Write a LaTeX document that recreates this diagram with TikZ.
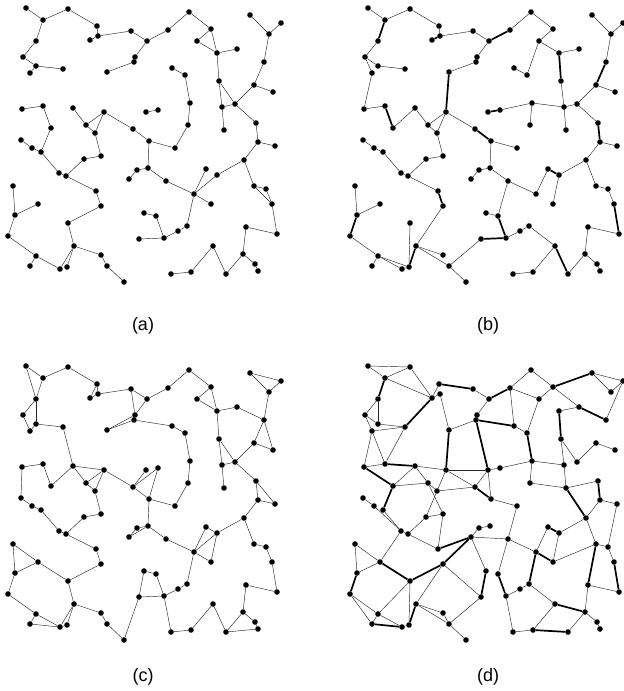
\documentclass[tikz,border=0pt]{standalone}
\usepackage{fontspec}
\setmainfont{Liberation Sans}
\tikzset{
  dot/.style={circle,fill=black,inner sep=0pt,minimum size=5.6pt},
  edge/.style={line width=0.45pt,draw=black!85},
  tedge/.style={line width=1.7pt,draw=black},
  lab/.style={font=\fontsize{18}{20}\selectfont}
}
\def\pts{1/26/8,2/43/20,3/68/9,4/97/26,5/98/36,6/90/40,7/131/31,8/147/41,9/135/57,10/134/62,
11/107/72,12/36/41,13/23/57,14/36/66,15/30/73,16/63/69,17/22/109,18/43/106,19/51/128,20/21/140,
21/32/148,22/73/108,23/86/125,24/104/112,25/95/133,26/146/112,27/133/129,28/168/30,29/189/12,30/211/29,
31/197/41,32/217/53,33/237/49,34/219/81,35/222/107,36/224/130,37/235/104,38/254/85,39/273/92,40/264/62,
41/269/34,42/250/15,43/281/23,44/256/123,45/258/142,46/275/146,47/172/68,48/185/75,49/190/103,50/188/125,
51/175/148,52/149/141,53/158/110,54/41/152,55/59/173,56/66/176,57/84/159,58/101/156,59/96/191,60/101/206,
61/68/223,62/74/246,63/101/255,64/107/266,65/124/282,66/60/269,67/67/267,68/36/256,69/30/266,70/8/236,
71/15/215,72/13/186,73/38/204,74/129/179,75/137/170,76/148/168,77/144/213,78/139/239,79/166/181,80/194/194,
81/211/204,82/206/169,83/217/175,84/244/160,85/254/186,86/266/189,87/272/204,88/277/234,89/246/227,90/243/254,
91/255/264,92/258/271,93/226/274,94/213/246,95/191/272,96/171/274,97/156/216,98/164/238,99/178/231,100/187/226}
\begin{document}
\begin{tikzpicture}[x=1pt,y=-1pt]
\useasboundingbox (0,0) rectangle (624,691);
\foreach \p/\ox/\oy in {a/0/0,b/342/0,c/0/358,d/342/358}{
  \foreach \i/\x/\y in \pts {\node[dot] (\p\i) at (\x+\ox,\y+\oy) {};}
}
% (a)
\foreach \u/\v in {1/2,2/3,3/4,4/5,5/6,5/7,7/8,8/9,9/10,10/11,2/12,12/13,13/14,14/15,14/16,
17/18,18/19,19/54,20/21,21/54,22/23,23/24,23/25,24/25,24/27,25/58,27/52,
8/28,28/29,29/30,30/31,31/32,30/32,32/33,32/34,34/35,35/36,34/37,35/37,37/38,38/39,38/40,40/41,41/42,41/43,37/44,44/45,45/46,
47/48,48/49,49/50,50/51,51/52,26/53,
54/55,55/56,56/57,57/58,56/59,59/60,60/61,61/62,62/63,63/64,64/65,62/66,62/67,66/68,68/69,68/70,70/71,71/72,71/73,
74/75,75/76,76/52,77/97,78/98,76/79,79/80,80/81,80/82,80/83,83/84,84/45,84/85,85/86,86/87,85/87,87/88,88/89,89/90,
90/91,91/92,90/93,93/94,94/95,95/96,97/98,98/99,99/100,100/80}
  {\draw[edge] (a\u) -- (a\v);}
% (b)
\foreach \u/\v in {1/2,2/3,3/4,4/5,5/7,7/8,28/29,29/30,30/31,31/48,47/48,31/32,32/33,34/35,35/36,35/37,37/38,38/39,
40/41,41/42,41/43,37/44,45/46,8/9,9/10,10/11,22/23,23/24,24/25,23/25,24/27,49/53,49/50,49/35,52/51,12/13,13/14,
13/15,14/16,15/17,17/18,19/22,20/21,21/54,54/55,55/56,56/57,57/58,25/58,56/59,60/62,61/67,62/63,62/64,64/65,
64/78,97/77,97/79,79/76,76/75,75/74,76/52,98/99,99/100,100/94,93/90,90/89,89/88,87/86,86/85,85/84,84/83,82/80,
83/81,79/80,84/45,90/91,91/92,94/95,95/96,71/72,71/73,70/68,68/69,68/66,68/67,66/67}
  {\draw[edge] (b\u) -- (b\v);}
\foreach \u/\v in {5/6,8/28,32/34,38/40,44/45,11/24,27/52,26/53,2/12,18/19,59/60,62/67,78/98,98/97,94/93,88/87,83/82,71/70}
  {\draw[tedge] (b\u) -- (b\v);}
% (c)
\foreach \u/\v in {1/2,1/12,2/12,2/3,3/4,4/5,4/6,5/6,5/7,7/8,7/9,8/9,9/10,9/11,10/11,8/28,28/29,29/30,30/31,30/32,
31/32,32/33,33/40,32/34,34/35,34/37,35/37,35/36,37/38,38/39,38/40,39/40,40/41,41/42,42/43,41/43,37/44,44/45,45/46,
44/46,10/47,47/48,48/49,49/50,50/51,51/52,52/53,27/26,27/53,27/52,27/24,24/23,24/25,23/25,22/23,22/24,22/19,22/16,
16/14,14/12,13/12,13/15,14/15,17/18,18/19,17/20,20/21,21/54,54/55,55/56,56/57,57/58,25/58,56/59,59/60,60/61,61/62,
62/63,63/64,64/65,62/66,62/67,66/67,66/68,66/69,68/69,68/70,70/71,71/72,71/73,72/73,73/61,74/76,75/76,74/75,76/52,
76/79,79/80,80/81,80/82,80/83,82/83,83/81,83/84,84/45,84/85,85/86,86/87,87/88,88/89,89/90,90/91,91/92,90/93,93/92,
93/94,94/95,95/96,96/98,80/100,100/99,99/98,98/97,97/77,77/78,78/98,78/65}
  {\draw[edge] (c\u) -- (c\v);}
% (d)
\foreach \u/\v in {1/3,1/2,2/3,3/6,2/6,4/6,5/6,5/11,7/8,8/9,9/10,10/11,12/13,12/14,13/14,13/15,14/16,15/16,15/17,
15/18,16/18,17/18,19/22,19/23,22/24,22/23,24/25,23/25,24/27,24/26,26/27,25/27,20/21,21/55,54/55,23/58,25/57,57/58,
56/57,55/56,55/73,56/59,58/59,74/75,75/76,74/77,60/78,60/62,73/72,72/71,71/73,70/68,70/69,68/69,68/61,61/67,68/66,
66/67,62/63,62/64,63/64,64/65,64/78,
29/28,29/30,28/31,31/48,30/31,42/43,42/41,43/41,43/40,32/33,30/33,47/28,47/48,49/53,49/35,49/50,34/35,34/37,37/38,
38/39,35/36,50/36,36/44,45/46,84/45,46/86,26/52,52/51,51/79,74/79,79/80,82/80,83/81,83/84,81/85,84/85,85/86,86/87,
89/88,89/90,90/91,91/92,90/93,95/96,95/94,94/100,100/99,99/98,98/96,79/97,53/26}
  {\draw[edge] (d\u) -- (d\v);}
\foreach \u/\v in {2/12,4/7,6/16,10/47,10/26,11/24,18/22,17/19,27/52,19/54,59/74,74/60,77/78,60/61,61/73,71/70,
62/67,69/66,8/28,30/42,33/40,32/34,48/49,44/45,36/84,80/81,82/83,87/88,85/89,93/95,94/90,100/80,97/98}
  {\draw[tedge] (d\u) -- (d\v);}
\node[lab] (la) at (143,326) {(a)};
\node[lab] (lb) at (488,326) {(b)};
\node[lab] (lc) at (143,677) {(c)};
\node[lab] (ld) at (488,677) {(d)};
\end{tikzpicture}
\end{document}
